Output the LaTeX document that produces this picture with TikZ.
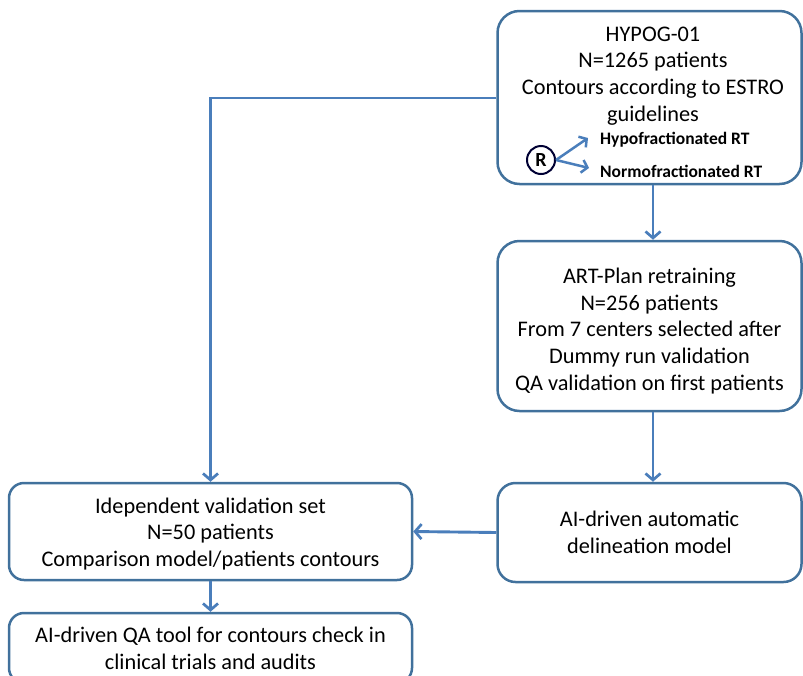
\documentclass[tikz,border=0pt]{standalone}
\usepackage{fontspec}
\setmainfont{Carlito}
\usetikzlibrary{arrows.meta}
\definecolor{boxcol}{RGB}{65,113,156}
\definecolor{concol}{RGB}{74,126,187}
\begin{document}
\begin{tikzpicture}[x=1pt,y=-1pt,
  box/.style={draw=boxcol,line width=2.5pt,rounded corners=#1,inner sep=0pt,align=center,
    font=\fontsize{22.3}{26.8}\selectfont},
  box/.default=22pt,
  conn/.style={draw=concol,line width=2.9pt,-{Straight Barb[length=6.5pt,width=15pt,line width=2.7pt]}},
  small/.style={font=\fontsize{17.5}{19}\selectfont\bfseries,anchor=west,inner sep=0pt}]
\useasboundingbox (0,0) rectangle (803,675);
% boxes
\node[box,minimum width=304pt,minimum height=173pt] (b1) at (649.5,97.5) {};
\node[font=\fontsize{22.3}{26.8}\selectfont,align=center,anchor=north,inner sep=0pt] (t1) at (653,26.5)
  {HYPOG-01\\N=1265 patients\\Contours according to ESTRO\\guidelines};
\node[draw=black!80!blue,line width=2pt,circle,minimum size=28pt,inner sep=0pt,font=\fontsize{20}{22}\selectfont\bfseries] (r) at (541,160) {R};
\node[small] (hypo) at (600,140) {Hypofractionated RT};
\node[small] (normo) at (600,171) {Normofractionated RT};
\coordinate (rt1) at (588,138);
\coordinate (rt2) at (589,168);
\draw[draw=concol,line width=2.5pt,-{Straight Barb[length=5.5pt,width=13pt,line width=2.5pt]}] (r.east) -- (rt1);
\draw[draw=concol,line width=2.5pt,-{Straight Barb[length=5.5pt,width=13pt,line width=2.5pt]}] (r.east) -- (rt2);

\node[box,minimum width=304pt,minimum height=170pt] (b2) at (649.5,326) {};
\node[font=\fontsize{22.3}{26.8}\selectfont,align=center,inner sep=0pt] (t2) at (649.5,331)
  {ART-Plan retraining\\N=256 patients\\From 7 centers selected after\\Dummy run validation\\QA validation on first patients};
\node[box=18pt,minimum width=304pt,minimum height=99pt] (b3) at (649.5,532.5)
  {AI-driven automatic\\delineation model};
\node[box=15pt,minimum width=403pt,minimum height=97pt] (b4) at (210.5,531.5) {};
\node[font=\fontsize{22.3}{26.8}\selectfont,align=center,inner sep=0pt] (t4) at (210.5,534)
  {Idependent validation set\\N=50 patients\\Comparison model/patients contours};
\node[box=15pt,minimum width=403pt,minimum height=70pt] (b5) at (210.5,648)
  {AI-driven QA tool for contours check in\\clinical trials and audits};

% connectors
\draw[conn] (b1.south -| 653,0) -- (b2.north -| 653,0);
\draw[conn] (b2.south -| 653,0) -- (b3.north -| 653,0);
\draw[conn] (b3.west) -- (b4.east);
\draw[conn] (b4.south) -- (b5.north);
\draw[conn] (b1.west |- 0,98) -| (b4.north);
\end{tikzpicture}
\end{document}
